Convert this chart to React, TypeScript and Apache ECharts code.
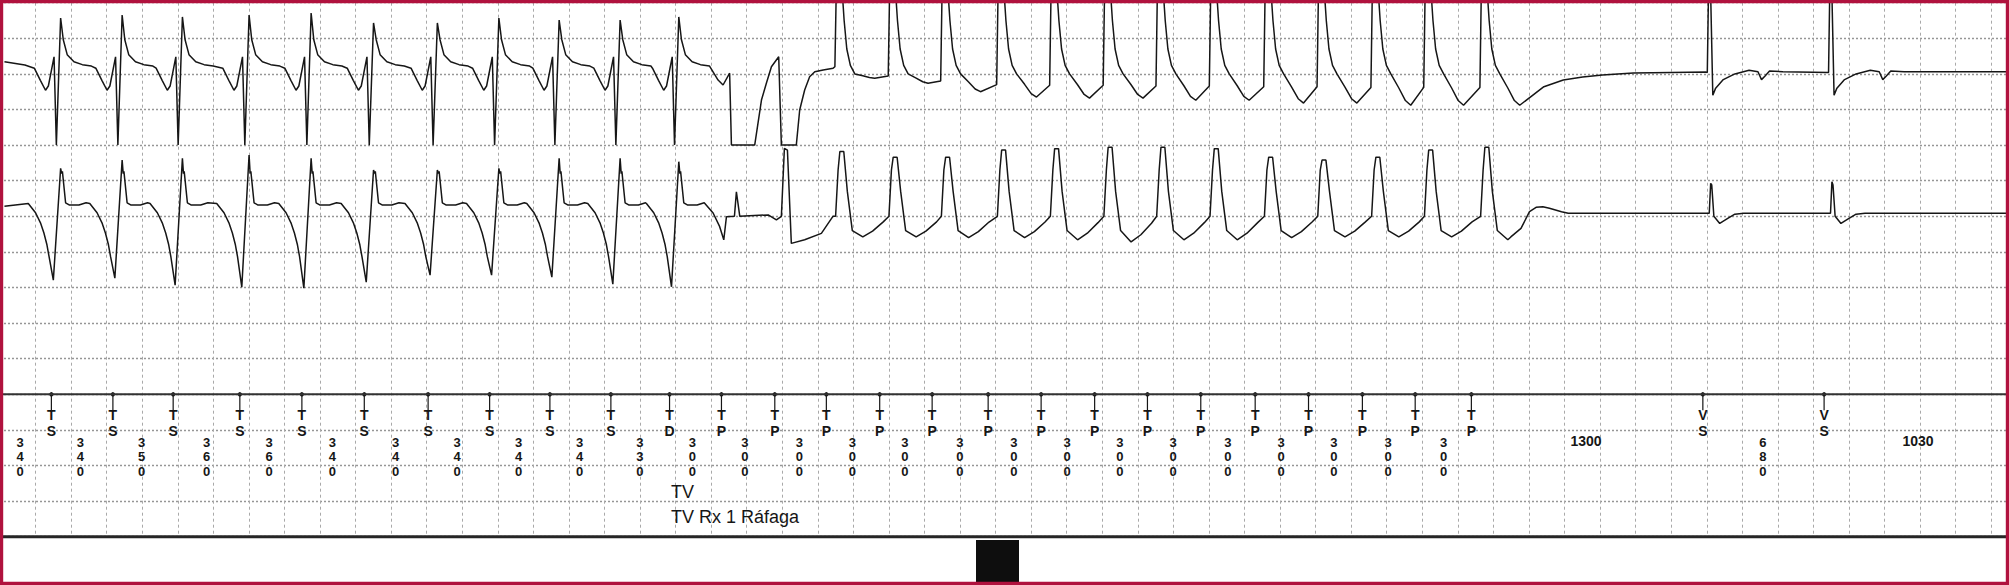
import React, { useEffect, useRef } from "react";
import * as echarts from "echarts";

// Time axis in ms (t = 0 on the first vertical grid line), 200 ms per large box.
// Vertical scale: 1 large box = 0.5 mV; grid has 15 large boxes.

// ---------------- Marker channel ----------------
const sensedBeatTimes = [89, 435, 774, 1149, 1498, 1849, 2208, 2554, 2893, 3236, 3566];
const sensedBeatCodes = ["TS", "TS", "TS", "TS", "TS", "TS", "TS", "TS", "TS", "TS", "TD"];
const paceTimes = [3858, 4158, 4448, 4748, 5043, 5358, 5656, 5957, 6254, 6554, 6860, 7160, 7463, 7760, 8076];
const vsTimes = [9378, 10060];

const intervalTimes = [
  -87, 252, 596, 962, 1313, 1669, 2025, 2371, 2717, 3060, 3399,
  3695, 3990, 4296, 4594, 4890, 5199, 5503, 5802, 6099, 6399, 6706, 7006, 7302, 7608, 7920,
  8721, 9716, 10588,
];
const intervalLabels = [
  "340", "340", "350", "360", "360", "340", "340", "340", "340", "340", "330",
  "300", "300", "300", "300", "300", "300", "300", "300", "300", "300", "300", "300", "300", "300", "300",
  "1300", "680", "1030",
];

const noteTime = 3566;
const notes = ["TV", "TV Rx 1 Ráfaga"];

// ---------------- Channel 1 (top trace), mV ----------------
const ch1LeadIn: number[][] = [[-175, 0.17], [-60, 0.125]];
// shape of each sensed (VT) complex relative to its marker; null = beat's R peak
const ch1SensedShape: (number | null)[][] = [
  [-96, 0.08], [-62, -0.09], [-33, -0.23], [-17, -0.17], [15, 0.24], [28, -1.0], [31, -1.0],
  [52, null], [67, 0.48], [89, 0.27], [127, 0.17], [174, 0.13], [225, 0.11],
];
const ch1SensedR = [0.785, 0.827, 0.8, 0.827, 0.855, 0.715, 0.715, 0.785, 0.757, 0.757, 0.8];
const ch1Transition: number[][] = [
  [3839, -0.086], [3867, -0.156], [3904, 0.01], [3914, -1.0], [4045, -1.0], [4083, -0.367],
  [4111, -0.128], [4139, 0.1], [4180, 0.24], [4195, -1.0], [4279, -1.0], [4298, -0.507],
  [4326, -0.226], [4354, -0.04], [4383, 0.03], [4430, 0.055], [4486, 0.08],
];
const capturedBeatTimes = [4448, 4748, 5043, 5358, 5656, 5957, 6254, 6554, 6860, 7160, 7463, 7760, 8076];
const ch1PacedShape: (number | null)[][] = [
  [48, null], [57, 1.35], [84, 1.35], [100, 0.75], [115, 0.35], [135, 0.12], [160, 0.0],
];
const ch1PacedTroughShape = [[205, 0.45], [242, 0.85], [272, 1.0]];
const ch1PacedPre = [0.1, -0.03, -0.1, -0.15, -0.16, -0.16, -0.17, -0.17, -0.18, -0.18, -0.19, -0.19, -0.19];
const ch1PacedTrough = [-0.06, -0.13, -0.25, -0.325, -0.34, -0.34, -0.37, -0.37, -0.41, -0.41, -0.44, -0.44, -0.44];
const ch1Tail: number[][] = [[8484, -0.18], [8593, -0.086], [8702, -0.045], [8813, -0.015], [8987, 0.013], [9200, 0.02], [9395, 0.025]];
const ch1VSShape = [
  [25, 0.02], [33, 1.35], [42, 1.35], [56, -0.3], [72, -0.2], [115, -0.08], [180, 0.0],
  [260, 0.05], [310, 0.03], [330, -0.08], [350, -0.03], [375, 0.04], [450, 0.03],
];
const ch1End: number[][] = [[11100, 0.03]];

// ---------------- Channel 2 (second trace), mV ----------------
const ch2LeadIn: number[][] = [[-175, 0.14]];
// "R" = beat's peak, "S" = beat's trough
const ch2SensedShape: (number | string)[][] = [
  [-130, 0.18], [-89, 0.05], [-60, -0.1], [-42, -0.235], [-25, -0.4], [-13, -0.567], [11, "S"],
  [52, "R"], [58, 0.6], [62, 0.63], [80, 0.19], [100, 0.16], [155, 0.16], [195, 0.19],
];
const ch2SensedR = [0.674, 0.79, 0.815, 0.86, 0.815, 0.65, 0.65, 0.674, 0.815, 0.815, 0.767];
const ch2SensedS = [-0.896, -0.868, -0.967, -0.995, -1.01, -0.925, -0.826, -0.826, -0.854, -0.952, -0.99];
const ch2Transition: number[][] = [
  [3811, 0.046], [3848, -0.146], [3871, -0.33], [3886, -0.006], [3931, 0.0], [3942, 0.345],
  [3961, 0.0], [4121, 0.02], [4167, -0.05], [4195, 0.0], [4212, 0.955], [4229, 0.93],
  [4251, -0.38], [4326, -0.33], [4420, -0.24], [4485, 0.0],
];
const ch2PacedShape: (number | null)[][] = [[52, 0.0], [66, 0.65], [76, null], [98, null], [118, 0.35], [146, -0.2]];
const ch2PacedTroughShape = [[205, 1.0], [260, 0.72], [320, 0.27]];
const ch2PacedPeak = [0.91, 0.83, 0.83, 0.93, 0.95, 0.97, 0.97, 0.95, 0.83, 0.79, 0.83, 0.93, 0.97];
const ch2PacedTrough = [-0.29, -0.29, -0.3, -0.3, -0.33, -0.36, -0.33, -0.33, -0.3, -0.29, -0.29, -0.29, -0.33];
const ch2LastPacedCut = 210;
const ch2Tail: number[][] = [
  [8298, -0.29], [8355, -0.17], [8403, 0.065], [8440, 0.126], [8478, 0.135], [8515, 0.112],
  [8583, 0.065], [8621, 0.042], [9400, 0.042],
];
const ch2VSShape: (number | null)[][] = [[36, 0.042], [44, null], [50, 0.44], [62, 0.0], [95, -0.1], [140, -0.03], [180, 0.03], [230, 0.042]];
const ch2VSPeak = [0.463, 0.486];
const ch2End: number[][] = [[11100, 0.042]];

// ---------------- build traces ----------------
function buildCh1(): number[][] {
  const pts: number[][] = [...ch1LeadIn];
  sensedBeatTimes.forEach((t0, i) => {
    ch1SensedShape.forEach(([dt, v]) => pts.push([t0 + (dt as number), v === null ? ch1SensedR[i] : (v as number)]));
  });
  pts.push(...ch1Transition);
  capturedBeatTimes.forEach((t0, i) => {
    ch1PacedShape.forEach(([dt, v]) => pts.push([t0 + (dt as number), v === null ? ch1PacedPre[i] : (v as number)]));
    ch1PacedTroughShape.forEach(([dt, f]) => pts.push([t0 + dt, f * ch1PacedTrough[i]]));
  });
  pts.push(...ch1Tail);
  vsTimes.forEach((t0) => ch1VSShape.forEach(([dt, v]) => pts.push([t0 + dt, v])));
  pts.push(...ch1End);
  return pts;
}

function buildCh2(): number[][] {
  const pts: number[][] = [...ch2LeadIn];
  sensedBeatTimes.forEach((t0, i) => {
    ch2SensedShape.forEach(([dt, v]) =>
      pts.push([t0 + (dt as number), v === "R" ? ch2SensedR[i] : v === "S" ? ch2SensedS[i] : (v as number)])
    );
  });
  pts.push(...ch2Transition);
  const last = capturedBeatTimes.length - 1;
  capturedBeatTimes.forEach((t0, i) => {
    ch2PacedShape.forEach(([dt, v]) => pts.push([t0 + (dt as number), v === null ? ch2PacedPeak[i] : (v as number)]));
    ch2PacedTroughShape.forEach(([dt, f]) => {
      if (i === last && dt > ch2LastPacedCut) return;
      pts.push([t0 + dt, f * ch2PacedTrough[i]]);
    });
  });
  pts.push(...ch2Tail);
  vsTimes.forEach((t0, i) =>
    ch2VSShape.forEach(([dt, v]) => pts.push([t0 + (dt as number), v === null ? ch2VSPeak[i] : (v as number)]))
  );
  pts.push(...ch2End);
  return pts;
}

const markerTimes = [...sensedBeatTimes, ...paceTimes, ...vsTimes];
const markerCodes = [...sensedBeatCodes, ...paceTimes.map(() => "TP"), ...vsTimes.map(() => "VS")];

const INK = "#161616";
const FONT = '"Liberation Sans", Arial, sans-serif';

export default function App() {
  const ref = useRef<HTMLDivElement>(null);
  useEffect(() => {
    const chart = echarts.init(ref.current as HTMLDivElement, null, { renderer: "svg" });
    const hidden = { axisLine: { show: false }, axisTick: { show: false }, axisLabel: { show: false } };
    const option: any = {
      animation: false,
      backgroundColor: "#ffffff",
      grid: { left: -2.3, right: 0, top: 2.7, bottom: 48.3 },
      xAxis: {
        type: "value",
        min: -200,
        max: 11100,
        interval: 200,
        ...hidden,
        splitLine: { show: true, lineStyle: { color: "#a9a9a9", width: 1, type: [3, 3] } },
      },
      yAxis: [
        {
          type: "value",
          min: 0,
          max: 15,
          interval: 1,
          ...hidden,
          splitLine: { show: true, lineStyle: { color: "#969696", width: 1.4, type: [2, 2] } },
        },
        { type: "value", min: -6.5, max: 1.0, show: false },
        { type: "value", min: -4.5, max: 3.0, show: false },
      ],
      series: [
        {
          type: "line",
          yAxisIndex: 0,
          data: [[-200, 4], [11100, 4]],
          symbol: "none",
          clip: false,
          silent: true,
          lineStyle: { color: "#333333", width: 2 },
        },
        {
          type: "line",
          yAxisIndex: 0,
          data: [[-200, 0], [11100, 0]],
          symbol: "none",
          clip: false,
          silent: true,
          lineStyle: { color: "#262626", width: 3 },
        },
        {
          type: "line",
          yAxisIndex: 1,
          data: buildCh1(),
          symbol: "none",
          clip: true,
          lineStyle: { color: INK, width: 1.5 },
        },
        {
          type: "line",
          yAxisIndex: 2,
          data: buildCh2(),
          symbol: "none",
          clip: true,
          lineStyle: { color: INK, width: 1.5 },
        },
        {
          type: "custom",
          yAxisIndex: 0,
          data: markerTimes.map((t) => [t, 4]),
          renderItem: (params: any, api: any) => {
            const code = markerCodes[params.dataIndex];
            const p = api.coord([api.value(0), 4]);
            const x = p[0];
            const y = p[1];
            return {
              type: "group",
              children: [
                { type: "circle", shape: { cx: x, cy: y, r: 2.2 }, style: { fill: INK } },
                { type: "line", shape: { x1: x, y1: y, x2: x, y2: y + 16 }, style: { stroke: INK, lineWidth: 1.2 } },
                {
                  type: "text",
                  style: {
                    text: code[0] + "\n" + code[1],
                    x: x,
                    y: y + 28.5,
                    align: "center",
                    verticalAlign: "middle",
                    fontSize: 14,
                    fontWeight: "bold",
                    fontFamily: FONT,
                    lineHeight: 16,
                    fill: INK,
                  },
                },
              ],
            };
          },
        },
        {
          type: "custom",
          yAxisIndex: 0,
          data: intervalTimes.map((t) => [t, 3]),
          renderItem: (params: any, api: any) => {
            const label = intervalLabels[params.dataIndex];
            const p = api.coord([api.value(0), 3]);
            const stacked = label.length <= 3;
            return {
              type: "text",
              style: {
                text: stacked ? label.split("").join("\n") : label,
                x: p[0],
                y: stacked ? p[1] + 27 : p[1] + 10.6,
                align: "center",
                verticalAlign: "middle",
                fontSize: stacked ? 13 : 14,
                fontWeight: "bold",
                fontFamily: FONT,
                lineHeight: 14.1,
                fill: INK,
              },
            };
          },
        },
        {
          type: "custom",
          yAxisIndex: 0,
          data: notes.map(() => [noteTime, 1]),
          renderItem: (params: any, api: any) => {
            const p = api.coord([api.value(0), 1]);
            return {
              type: "text",
              style: {
                text: notes[params.dataIndex],
                x: p[0] + 1.5,
                y: p[1] + (params.dataIndex === 0 ? -9.5 : 15.5),
                align: "left",
                verticalAlign: "middle",
                fontSize: 18,
                fontFamily: FONT,
                fill: INK,
              },
            };
          },
        },
      ],
      graphic: [
        { type: "rect", z: 50, shape: { x: 976, y: 540, width: 43, height: 45 }, style: { fill: "#0e0e0e" } },
        {
          type: "rect",
          z: 100,
          shape: { x: 1.6, y: 1.6, width: 2005.8, height: 581.8 },
          style: { fill: "none", stroke: "#b0123e", lineWidth: 3.2 },
        },
      ],
    };
    chart.setOption(option);
    return () => chart.dispose();
  }, []);
  return (
    <div
      ref={ref}
      style={{ position: "fixed", left: 0, top: 0, width: 2009, height: 585, background: "#ffffff" }}
    />
  );
}
